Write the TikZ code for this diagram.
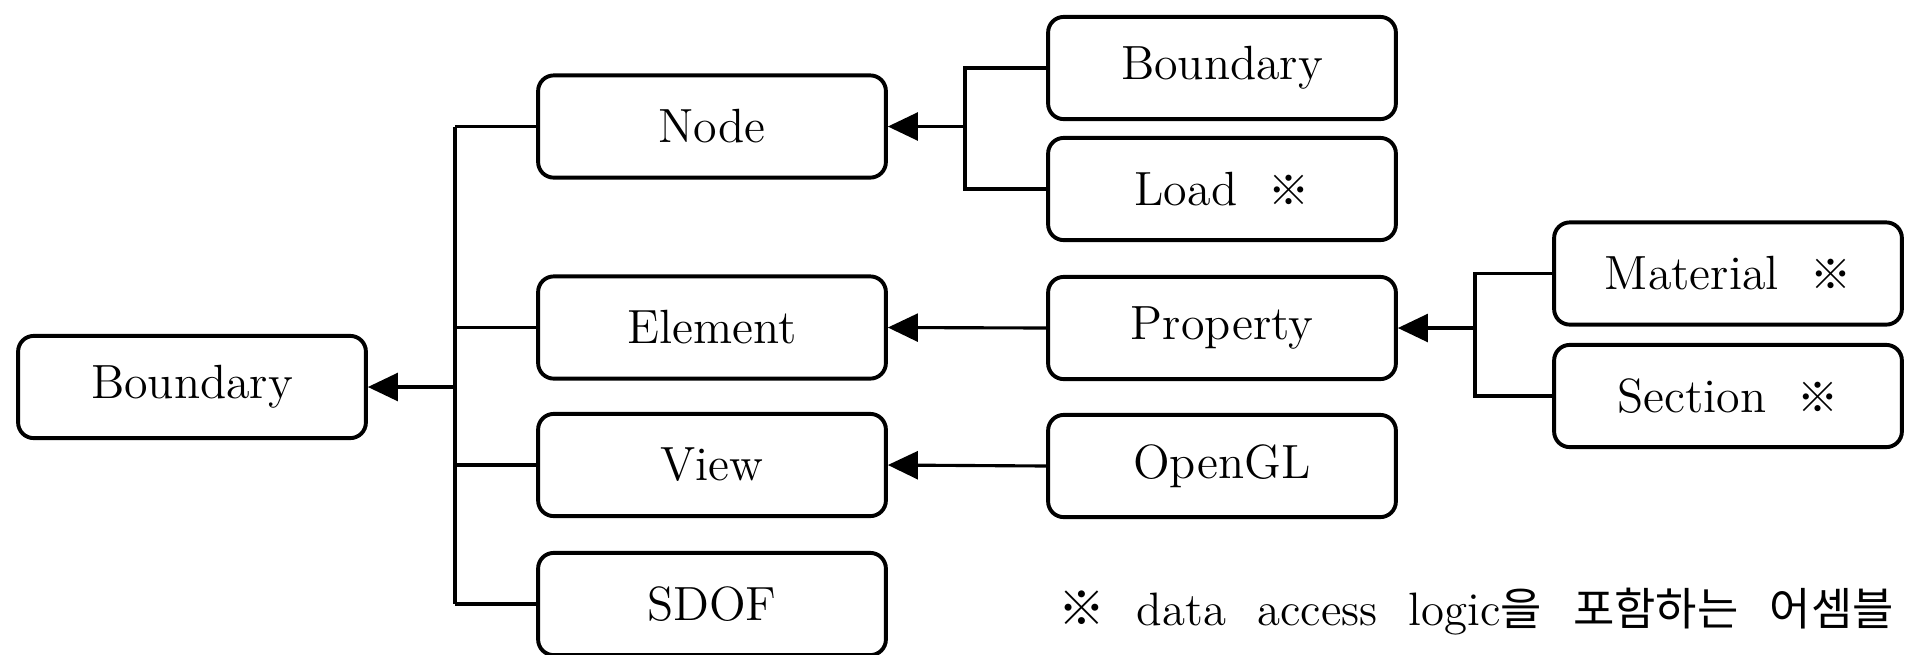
\documentclass[tikz,border=0pt]{standalone}
\usepackage{fontspec}
\usepackage{tikz}
\usetikzlibrary{arrows.meta}
\newfontfamily\cjk{Noto Sans CJK KR}
\newcommand{\asmmark}{{\cjk\fontsize{10.5}{14}\selectfont ※}}
\newcommand{\notegap}{\hspace{8pt}}

\begin{document}
\begin{tikzpicture}[x=0.9cm,y=0.9cm,
    box/.style={draw,line width=1pt,rounded corners=4pt,minimum width=3.13cm,
      minimum height=0.92cm,inner sep=0pt,font=\fontsize{12.3}{14}\selectfont},
    link/.style={line width=0.8pt},
    tip/.style={link,-{Triangle[length=2.7mm,width=2.5mm]}}]
    \useasboundingbox (0,0) rectangle (19.11,6.54);

    % assemblies, column by column
    \node[box] (root) at (1.92,2.67) {Boundary};
    \node[box] (nodeb) at (7.12,5.275) {Node};
    \node[box] (elem) at (7.12,3.265) {Element};
    \node[box] (view) at (7.12,1.89) {View};
    \node[box] (sdof) at (7.12,0.50) {SDOF};
    \node[box] (bndc) at (12.22,5.86) {Boundary};
    \node[box] (load) at (12.22,4.65) {Load\ \ \asmmark};
    \node[box] (prop) at (12.22,3.26) {Property};
    \node[box] (ogl) at (12.22,1.88) {OpenGL};
    \node[box] (mat) at (17.28,3.805) {Material\ \ \asmmark};
    \node[box] (sect) at (17.28,2.58) {Section\ \ \asmmark};

    % trunk to the root
    \coordinate (trunk) at (4.55,2.67);
    \draw[link] (trunk |- nodeb) -- (trunk |- sdof);
    \foreach \n in {nodeb,elem,view,sdof} {
      \draw[link] (trunk |- \n) -- (\n.west);
    }
    \draw[tip] (trunk) -- (root.east);

    % node parts
    \coordinate (fork) at (9.65,5.275);
    \draw[link] (bndc.west) -| (fork |- load) -- (load.west);
    \draw[tip] (fork) -- (nodeb.east);

    % property parts
    \coordinate (fork2) at (14.75,3.26);
    \draw[link] (mat.west) -| (fork2 |- sect) -- (sect.west);
    \draw[tip] (fork2) -- (prop.east);

    \draw[tip] (prop.west) -- (elem.east);
    \draw[tip] (ogl.west) -- (view.east);

    \node[anchor=base west,inner sep=0pt,font=\fontsize{12}{14}\selectfont] (note) at (10.58,0.29)
      {{\cjk\fontsize{12}{14}\selectfont ※}\notegap data\notegap access\notegap logic{\cjk\fontsize{11.5}{14}\selectfont 을\notegap 포함하는\notegap 어셈블}};
\end{tikzpicture}
\end{document}
